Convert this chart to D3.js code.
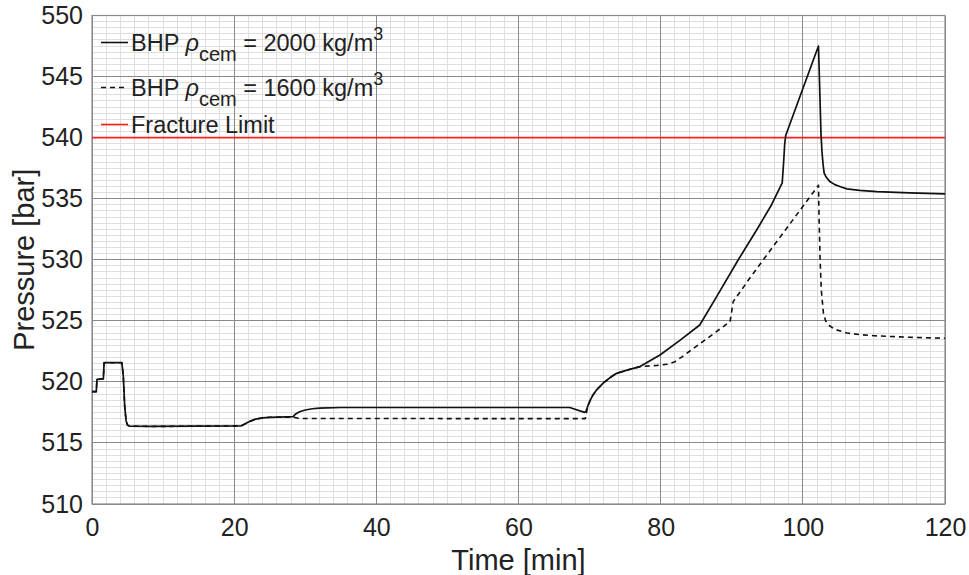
<!DOCTYPE html>
<html><head><meta charset="utf-8">
<script src="https://cdn.jsdelivr.net/npm/d3@7"></script>
<style>body{margin:0;background:#fff}svg{display:block}text{font-family:"Liberation Sans",Arial,Helvetica,sans-serif;fill:#222}</style>
</head><body><svg id="c" width="969" height="575"></svg>
<script>
// Data
const t2000 = [0,0.6,0.7,1.6,1.7,4.2,4.4,4.6,4.8,5.0,5.3,8.4,21.0,21.5,22,23,24,25,28.3,28.6,29.2,30,31,32,35,67.2,69.3,69.5,69.8,70.1,70.5,71.0,71.9,73.0,73.8,75.5,77.1,79.9,82.7,85.5,88,90.9,93.5,95.5,97.1,97.3,97.45,97.6,102.2,102.35,102.55,102.7,102.85,103.0,103.3,103.8,104.5,105.3,106.2,108,110.4,115,120];
const p2000 = [519.2,519.2,520.2,520.25,521.57,521.57,520.5,518.0,516.8,516.45,516.38,516.35,516.4,516.55,516.72,516.95,517.05,517.1,517.15,517.35,517.55,517.7,517.8,517.85,517.9,517.9,517.5,517.6,518.1,518.5,518.95,519.35,519.9,520.4,520.7,521.0,521.25,522.2,523.4,524.66,527.1,529.98,532.44,534.4,536.3,538.0,539.5,540.2,547.5,544.5,540.35,538.8,537.8,537.1,536.75,536.4,536.15,535.98,535.8,535.68,535.58,535.47,535.39];
const t1600 = [0,0.6,0.7,1.6,1.7,4.2,4.4,4.6,4.8,5.0,5.3,8.4,21.0,21.5,22,23,24,25,28.3,29.0,30,67.2,69.4,69.6,69.8,70.1,70.5,71.0,71.9,73.0,73.8,75.5,77.1,79.5,81.0,82.0,83.0,89.76,90.0,90.2,92.55,97.5,102.2,102.3,102.43,102.6,102.9,103.2,103.6,104.5,106.2,108,110,115,120];
const p1600 = [519.2,519.2,520.2,520.25,521.57,521.57,520.5,518.0,516.8,516.45,516.38,516.35,516.4,516.55,516.72,516.95,517.05,517.1,517.12,517.02,517.0,516.99,516.99,517.6,518.1,518.5,518.95,519.35,519.9,520.4,520.7,521.0,521.25,521.35,521.45,521.65,522.05,524.93,525.8,526.57,528.5,532.4,536.1,533.0,530.0,527.5,525.6,525.0,524.66,524.3,524.0,523.87,523.78,523.65,523.57];
const fractureLimit = 540;
const xTicks = [0,20,40,60,80,100,120];
const yTicks = [510,515,520,525,530,535,540,545,550];

const svg = d3.select("#c");
const L=92, R=945, T=15.5, B=504;
const x = d3.scaleLinear().domain([0,120]).range([L,R]);
const y = d3.scaleLinear().domain([510,550]).range([B,T]);

const g = svg.append("g");
// minor grid
g.selectAll(".vx").data(d3.range(0,120.01,2)).join("line")
  .attr("x1",d=>x(d)).attr("x2",d=>x(d)).attr("y1",T).attr("y2",B)
  .attr("stroke","#dedede").attr("stroke-width",1).attr("shape-rendering","crispEdges");
g.selectAll(".hy").data(d3.range(510,550.01,0.5)).join("line")
  .attr("y1",d=>y(d)).attr("y2",d=>y(d)).attr("x1",L).attr("x2",R)
  .attr("stroke","#dedede").attr("stroke-width",1).attr("shape-rendering","crispEdges");
// major grid
g.selectAll(".mx").data(xTicks).join("line")
  .attr("x1",d=>x(d)).attr("x2",d=>x(d)).attr("y1",T).attr("y2",B)
  .attr("stroke","#8a8a8a").attr("stroke-width",1).attr("shape-rendering","crispEdges");
g.selectAll(".my").data(yTicks).join("line")
  .attr("y1",d=>y(d)).attr("y2",d=>y(d)).attr("x1",L).attr("x2",R)
  .attr("stroke","#8a8a8a").attr("stroke-width",1).attr("shape-rendering","crispEdges");
// box
svg.append("rect").attr("x",L).attr("y",T).attr("width",R-L).attr("height",B-T)
  .attr("fill","none").attr("stroke","#8a8a8a").attr("stroke-width",1.2);

// axes
const xa = svg.append("g").attr("transform",`translate(0,${B})`)
  .call(d3.axisBottom(x).tickValues(xTicks).tickSize(0).tickPadding(14));
xa.select(".domain").remove();
xa.selectAll("text").attr("font-size",25).style("fill","#222").attr("dy","0.71em");
const ya = svg.append("g").attr("transform",`translate(${L},0)`)
  .call(d3.axisLeft(y).tickValues(yTicks).tickSize(0).tickPadding(9));
ya.select(".domain").remove();
ya.selectAll("text").attr("font-size",25).style("fill","#222");
svg.selectAll(".tick text").style("font-family",'"Liberation Sans",Arial,sans-serif');

// titles
svg.append("text").attr("x",(L+R)/2).attr("y",570).attr("text-anchor","middle")
  .attr("font-size",29).text("Time [min]");
svg.append("text").attr("transform",`translate(34,${(T+B)/2}) rotate(-90)`).attr("text-anchor","middle")
  .attr("font-size",29).text("Pressure [bar]");

// lines
svg.append("clipPath").attr("id","cl").append("rect").attr("x",L).attr("y",T).attr("width",R-L).attr("height",B-T);
const line = d3.line().x(d=>x(d[0])).y(d=>y(d[1])).curve(d3.curveLinear);
const s1 = t2000.map((t,i)=>[t,p2000[i]]);
const s2 = t1600.map((t,i)=>[t,p1600[i]]);
const pg = svg.append("g").attr("clip-path","url(#cl)");
pg.append("line").attr("x1",L).attr("x2",R).attr("y1",y(fractureLimit)).attr("y2",y(fractureLimit))
  .attr("stroke","#ff2020").attr("stroke-width",1.6);
pg.append("path").datum(s2).attr("d",line).attr("fill","none").attr("stroke","#111").attr("stroke-width",1.6).attr("stroke-dasharray","5,4").attr("stroke-linejoin","round");
pg.append("path").datum(s1).attr("d",line).attr("fill","none").attr("stroke","#111").attr("stroke-width",1.7).attr("stroke-linejoin","round");

// legend
const leg = svg.append("g");
const rows = [
  {y:42.5, dash:null, color:"#111", num:"2000"},
  {y:87.5, dash:"5,4", color:"#111", num:"1600"},
  {y:124.5, dash:null, color:"#ff2020", num:null}
];
rows.forEach(r=>{
  leg.append("line").attr("x1",101).attr("x2",128).attr("y1",r.y).attr("y2",r.y)
    .attr("stroke",r.color).attr("stroke-width",1.6).attr("stroke-dasharray",r.dash);
  const tx = leg.append("text").attr("x",131).attr("y",r.y+8).attr("font-size",23.5);
  if(r.num){
    tx.append("tspan").text("BHP ");
    tx.append("tspan").attr("font-style","italic").text("ρ");
    tx.append("tspan").attr("dy",10).attr("font-size",20).text("cem");
    tx.append("tspan").attr("dy",-10).text(" = " + r.num + " kg/m");
    tx.append("tspan").attr("dy",-11).attr("font-size",18).text("3");
  } else {
    tx.text("Fracture Limit");
  }
});
</script></body></html>
